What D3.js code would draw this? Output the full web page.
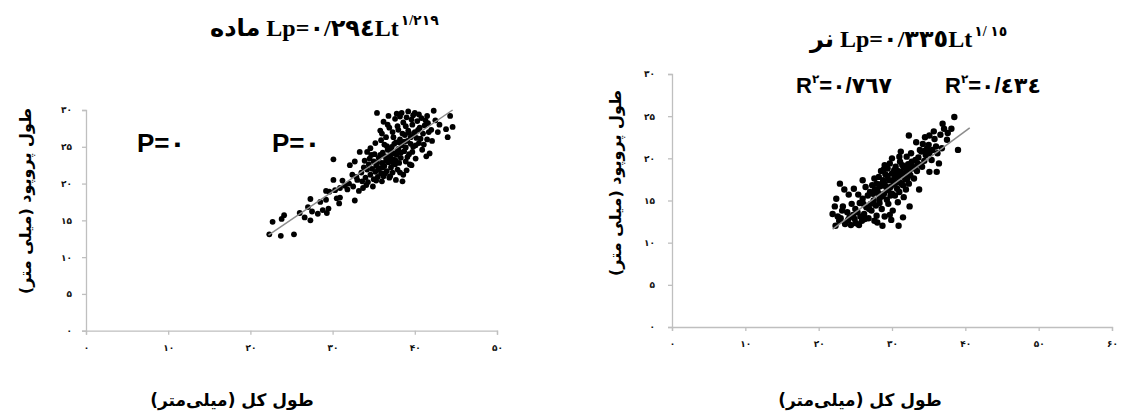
<!DOCTYPE html>
<html><head><meta charset="utf-8">
<script src="https://cdn.jsdelivr.net/npm/d3@7"></script>
<style>
html,body{margin:0;padding:0;background:#fff;}
svg{display:block;}
</style></head>
<body><svg id="c" width="1122" height="416"></svg>
<script>
// ---- data ----
const xTicksFemale = [0,10,20,30,40,50];
const xTickLabelsFemale = ['۰','۱۰','۲۰','۳۰','۴۰','۵۰'];
const xTicksMale = [0,10,20,30,40,50,60];
const xTickLabelsMale = ['۰','۱۰','۲۰','۳۰','۴۰','۵۰','۶۰'];
const yTicks = [0,5,10,15,20,25,30];
const yTickLabels = ['۰','۵','۱۰','۱۵','۲۰','۲۵','۳۰'];

const femalePoints = [
[22.3,13.1],[23.7,12.9],[25.3,13.1],[22.7,14.8],[23.8,15.2],[24.1,15.7],[26.6,15.4],[27.3,15.0],[27.5,16.2],[28.2,15.9],
[27.3,17.9],[29.3,16.0],[29.5,16.6],[29.2,17.8],[29.2,19.0],[29.6,18.9],[30.1,20.5],[30.1,23.3],[30.5,18.0],[30.9,18.1],
[30.8,17.3],[30.3,19.1],[30.9,19.4],[31.5,19.7],[32.0,20.0],[32.7,17.7],[32.1,22.5],[32.7,23.0],[32.4,21.2],[32.9,20.9],
[33.3,24.3],[33.7,19.4],[34.1,19.8],[36.0,20.3],[27.0,16.8],[26.0,16.0],[28.5,17.5],[28.8,16.4],
[31.2,20.4],[31.8,19.2],[32.5,19.6],[33.0,20.5],[33.2,19.0],[33.6,20.3],[34.3,20.2],[34.9,19.6],
[33.5,21.5],[33.8,22.2],[34.0,20.8],[34.2,21.9],[34.4,22.6],[34.6,21.2],[34.8,22.0],[35.0,20.6],[35.0,23.0],[35.2,21.6],
[35.3,22.4],[35.5,20.9],[35.6,23.5],[35.7,22.1],[35.9,21.4],[36.0,22.8],[36.1,24.2],[36.2,21.0],[36.3,22.4],[36.5,23.1],
[36.6,21.7],[36.7,24.6],[36.8,22.9],[36.9,20.8],[37.0,23.7],[37.1,22.2],[37.2,25.0],[37.3,21.5],[37.4,23.3],[37.5,24.1],
[37.6,22.6],[37.7,25.6],[37.8,23.9],[37.9,21.9],[38.0,24.7],[38.1,22.8],[38.2,26.0],[38.3,23.5],[38.4,25.2],[38.5,20.3],
[38.6,21.2],[38.7,24.4],[38.8,26.6],[38.9,23.0],[39.0,21.8],[39.1,25.8],[39.2,27.2],[39.3,24.0],[39.4,22.6],[39.6,22.5],
[39.5,26.3],[39.7,28.0],[39.8,25.0],[40.0,27.0],[40.1,23.4],[40.2,26.2],[40.3,28.5],[40.5,25.5],[40.6,27.6],[40.8,28.9],
[40.9,24.6],[41.0,26.8],[41.2,27.9],[41.4,23.7],[41.5,26.0],[41.6,28.2],[41.8,24.1],[42.0,27.3],[42.3,29.9],[42.5,28.6],
[43.0,28.0],[43.8,27.4],[44.0,26.3],[44.3,29.2],[44.6,27.7],
[35.4,29.6],[36.8,29.2],[38.4,29.6],[39.2,29.8],[39.8,29.3],[36.2,28.4],[36.9,27.6],[37.6,28.8],[37.3,27.0],[36.5,26.3],
[35.8,27.2],[35.2,25.5],[34.6,24.8],[35.9,25.9],[36.3,25.3],[37.9,27.8],[38.6,28.3],[39.0,29.0],[38.2,29.1],[40.0,29.6],
[34.5,23.4],[35.1,24.0],[35.4,22.8],[35.8,23.9],[36.1,22.2],[36.4,23.7],[36.6,25.1],[36.9,23.3],[37.1,24.4],[37.3,22.9],
[37.5,25.4],[37.7,23.1],[37.9,24.5],[38.1,25.6],[38.3,24.2],[38.5,26.8],[38.7,25.7],[38.9,24.9],[39.1,23.6],[39.3,26.9],
[39.5,25.4],[39.7,24.3],[39.9,26.6],[40.1,25.2],[40.4,27.3],[40.7,26.1],[41.1,25.3],[41.3,28.6],[41.7,27.0],[42.1,25.8],
[42.8,27.0],[35.6,21.9],[36.4,21.4],[37.0,21.0],[37.7,20.5],[38.2,21.5],[34.7,23.9],[35.3,20.4],[33.9,23.1],[34.2,24.3],
[37.4,26.3],[38.0,27.3],[38.9,27.8],[39.6,28.7],[40.5,29.4],[41.5,29.2],[36.0,26.8],[36.7,28.0],[37.8,29.5]
];
const malePoints = [
[21.9,13.4],[22.2,14.3],[22.3,12.0],[22.6,13.1],[22.9,17.0],[23.3,14.3],[23.5,16.3],[24.0,12.7],[24.1,15.7],[24.7,13.3],
[25.1,12.3],[25.6,14.7],[22.8,12.6],[23.6,12.2],[24.4,12.1],[25.9,12.6],[26.2,13.4],[25.0,14.0],[23.9,13.6],[26.5,14.2],
[26.0,15.2],[26.8,12.9],[27.2,13.8],[27.5,15.0],[27.0,16.0],[26.4,16.6],[25.4,15.7],[27.8,14.4],[28.0,16.3],[28.3,15.2],
[28.6,17.0],[28.2,17.8],[28.9,15.8],[29.0,13.1],[29.7,13.3],[28.7,12.0],[29.9,12.7],[30.9,12.0],[29.4,18.8],[29.2,16.6],
[29.6,17.4],[29.8,15.6],[30.0,18.2],[30.2,16.9],[30.4,17.8],[30.5,19.0],[30.7,16.4],[30.8,18.5],[31.0,17.2],[31.1,19.6],
[31.3,18.0],[31.5,16.8],[31.6,18.9],[31.8,17.5],[32.0,20.2],[32.0,18.4],[32.2,19.3],[32.4,14.3],[32.3,17.0],[32.5,18.0],
[32.6,20.6],[32.8,19.0],[33.0,17.6],[33.2,19.8],[33.3,21.9],[33.4,18.5],[33.7,16.3],[33.6,20.1],[33.9,19.2],[34.0,20.8],
[34.2,21.7],[34.4,19.7],[34.6,20.4],[35.1,20.6],[35.1,22.7],[35.1,18.4],[35.5,21.0],[35.8,22.3],[36.0,21.4],[36.1,18.4],
[36.2,20.6],[32.3,22.7],[36.9,24.1],[37.1,23.5],[38.1,23.5],[38.5,24.9],[39.0,21.0],[37.5,22.2],[36.6,22.8],[34.8,21.2],
[29.0,19.2],[28.5,18.5],[27.6,17.6],[30.0,20.0],[31.2,20.8],[27.3,16.8],[26.0,17.4],
[27.4,15.8],[28.1,15.9],[28.4,16.7],[28.8,17.4],[29.1,18.1],[29.3,15.1],[29.5,16.2],[30.0,15.8],[30.3,18.6],[30.6,17.1],
[31.0,16.0],[31.2,18.4],[31.4,19.2],[31.9,16.3],[32.1,17.6],[30.8,14.8],[31.6,15.4],[28.6,14.0],[26.7,15.6],[25.3,13.6],
[24.5,14.6],[23.2,13.8],[22.4,15.2],[24.8,16.4],[26.1,14.6],[27.9,13.2],[31.5,13.0],[30.1,13.8],[28.0,12.4],[29.5,14.6],
[27.1,14.6],[27.7,16.3],[28.3,14.7],[28.7,15.5],[29.0,16.9],[29.4,17.9],[29.8,16.6],[30.1,17.4],[30.4,15.6],[30.6,18.2],
[30.9,17.8],[31.3,17.0],[31.7,18.2],[32.0,19.0],[32.4,18.6],[32.7,19.6],[33.1,18.8],[33.5,19.4],[34.1,19.0],[34.5,20.9],
[35.0,21.6],[35.4,19.8],[29.7,19.4],[31.0,20.2],[33.8,21.0],[28.9,18.7],[27.9,17.0],[26.9,14.0],[26.3,12.8],[25.7,13.1],
[24.9,12.8],[23.0,12.9],[24.2,13.0],[25.5,12.1],[27.6,12.6],[36.4,19.4],[36.8,21.2],[37.6,23.0],[35.7,23.2],[34.5,22.5]
];
const femaleTrend = [[22.2,13.0],[44.6,30.0]];
const maleTrend = [[21.9,11.6],[40.6,23.6]];

const femaleTitle = {word:'ماده', eq:' Lp=۰/۲۹٤Lt', exp:'۱/۲۱۹'};
const maleTitle = {word:'نر', eq:' Lp=۰/۳۳٥Lt', exp:'۱/ ۱٥'};
const yTitle = 'طول پروپود (میلی متر)';
const xTitle = 'طول کل (میلی‌متر)';

// ---- drawing ----
const svg = d3.select('#c');
const AXIS_COL = '#bfbfbf';

function panel(cfg){
  const x = d3.scaleLinear().domain(cfg.xDomain).range(cfg.xRange);
  const y = d3.scaleLinear().domain([0,30]).range(cfg.yRange);
  const g = svg.append('g');
  const xa = d3.axisBottom(x).tickValues(cfg.xTicks).tickSize(4).tickPadding(cfg.xPad)
     .tickFormat((d,i)=>cfg.xLabels[i]);
  const ya = d3.axisLeft(y).tickValues(yTicks).tickSize(4).tickPadding(cfg.yPad)
     .tickFormat((d,i)=>yTickLabels[i]);
  const gx = g.append('g').attr('transform',`translate(0,${y(0)})`).call(xa);
  const gy = g.append('g').attr('transform',`translate(${x(0)},0)`).call(ya);
  [gx,gy].forEach(a=>{
    a.select('.domain').attr('stroke',AXIS_COL).attr('stroke-width',1.3);
    a.selectAll('.tick line').attr('stroke',AXIS_COL).attr('stroke-width',1.3);
    a.selectAll('.tick text').attr('fill','#111').style('font-family','DejaVu Sans').style('font-weight','bold').style('font-size','9px');
  });
  g.append('g').selectAll('circle').data(cfg.points).join('circle')
    .attr('cx',d=>x(d[0])).attr('cy',d=>y(d[1])).attr('r',cfg.r).attr('fill','#000');
  g.append('path').datum(cfg.trend)
    .attr('d',d3.line().x(d=>x(d[0])).y(d=>y(d[1])))
    .attr('stroke','#8c8c8c').attr('stroke-width',1.5).attr('fill','none');
  // title
  const t = svg.append('text').attr('x',cfg.titleX).attr('y',cfg.titleY)
    .style('font-family','"Liberation Serif","DejaVu Sans"').style('font-weight','bold').style('font-size','24px').attr('fill','#000');
  t.append('tspan').text(cfg.title.word);
  t.append('tspan').text(cfg.title.eq);
  t.append('tspan').attr('dy',-11).attr('dx',2).style('font-size','14px').text(cfg.title.exp);
  // y title
  svg.append('text').attr('transform',`translate(${cfg.yTitlePos[0]},${cfg.yTitlePos[1]}) rotate(-90)`)
    .attr('text-anchor','middle').attr('dominant-baseline','central')
    .style('font-family','DejaVu Sans').style('font-weight','bold').style('font-size','16px').text(yTitle);
  // x title
  svg.append('text').attr('x',cfg.xTitlePos[0]).attr('y',cfg.xTitlePos[1]).attr('text-anchor','middle')
    .attr('dominant-baseline','central')
    .style('font-family','DejaVu Sans').style('font-weight','bold').style('font-size','17px').text(xTitle);
}

panel({xDomain:[0,50], xRange:[86,497], yRange:[330.7,110], xTicks:xTicksFemale, xLabels:xTickLabelsFemale,
  xPad:10, yPad:10, points:femalePoints, trend:femaleTrend, r:2.9,
  title:femaleTitle, titleX:210, titleY:36, yTitlePos:[25,201], xTitlePos:[232,400]});
panel({xDomain:[0,60], xRange:[672,1112], yRange:[327,74], xTicks:xTicksMale, xLabels:xTickLabelsMale,
  xPad:10, yPad:13, points:malePoints, trend:maleTrend, r:3.2,
  title:maleTitle, titleX:810, titleY:47, yTitlePos:[615,183], xTitlePos:[860,400]});

// statistic labels
function stat(x,y,main,sup,rest,anchor,size){
  const t = svg.append('text').attr('x',x).attr('y',y).attr('text-anchor',anchor)
    .style('font-family','"Liberation Sans","DejaVu Sans"').style('font-weight','bold').style('font-size',size);
  t.append('tspan').text(main);
  if(sup){ t.append('tspan').attr('dy',-10).style('font-size','12px').text(sup);
           t.append('tspan').attr('dy',10).text(rest); }
  else t.append('tspan').text(rest);
}
stat(137,152,'P','','=۰','start','26px');
stat(272,152,'P','','=۰','start','26px');
stat(892,93,'R','۲','=۰/۷٦۷','end','22px');
stat(945,93,'R','۲','=۰/٤۳٤','start','22px');
</script></body></html>
